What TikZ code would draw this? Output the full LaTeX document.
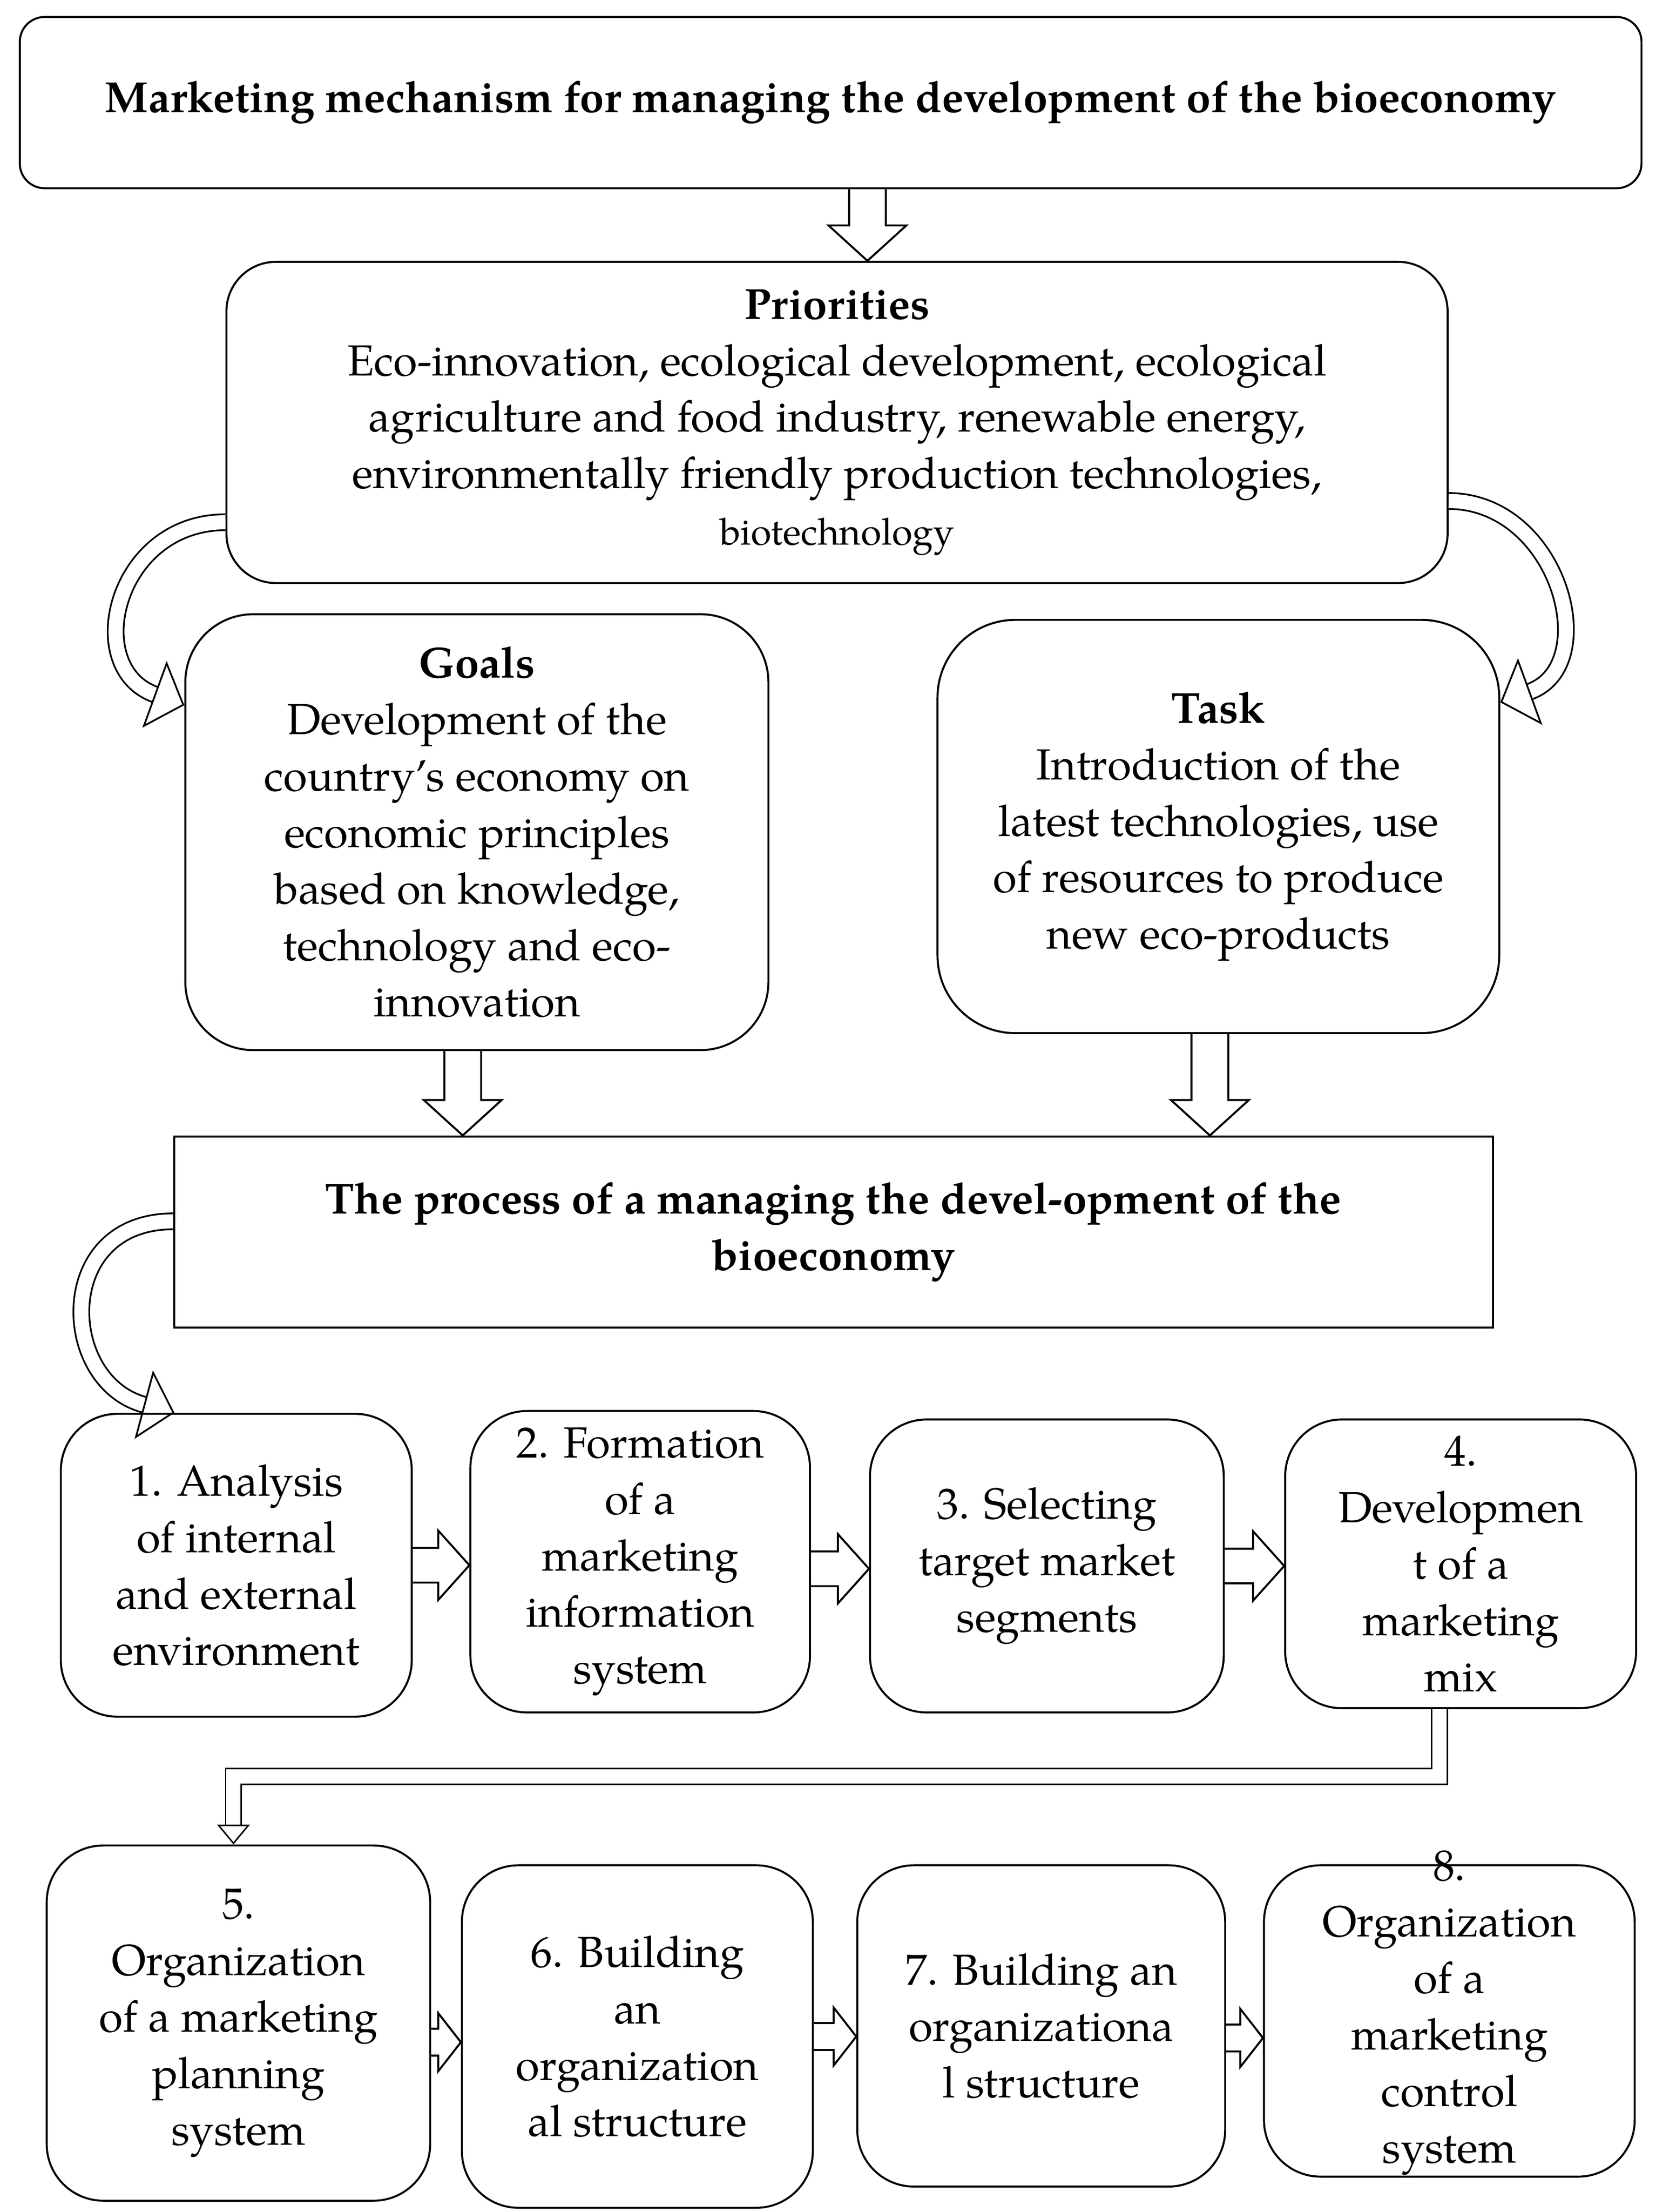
\documentclass[tikz,border=0pt]{standalone}
\usepackage{fontspec}
\setmainfont{texgyrepagella}[Extension=.otf, UprightFont=*-regular, BoldFont=*-bold, ItalicFont=*-italic, BoldItalicFont=*-bolditalic]
\usetikzlibrary{positioning,calc,arrows.meta}

\begin{document}
\begin{tikzpicture}[every node/.style={align=center, font=\fontsize{17.5}{22.7}\selectfont},
  box/.style={draw, line width=0.8pt, rounded corners=#1, inner sep=1pt},
  box/.default=0.8cm,
  hollow/.style n args={3}{draw, line width=0.8pt,
    to path={let \p1=($(\tikztotarget)!#3!(\tikztostart)$) in
      ($(\tikztostart)!#1!-90:(\tikztotarget)$) -- ($(\p1)!#1!-90:(\tikztotarget)$)
      -- ($(\p1)!#2!-90:(\tikztotarget)$) -- (\tikztotarget)
      -- ($(\p1)!#2!90:(\tikztotarget)$) -- ($(\p1)!#1!90:(\tikztotarget)$)
      -- ($(\tikztostart)!#1!90:(\tikztotarget)$)}},
  bigarrow/.style={hollow={0.26cm}{0.55cm}{0.5cm}},
  rowarrow/.style={hollow={0.245cm}{0.49cm}{0.44cm}},
  smallarrow/.style={hollow={0.19cm}{0.41cm}{0.32cm}},
  curvy/.style={line width=0.7pt, double=white, double distance=0.2cm,
    -{Triangle[open, length=0.45cm, width=1.0cm, line width=0.7pt]}},
  pipe/.style={line width=0.6pt, double=white, double distance=0.2cm,
    -{Triangle[open, length=0.28cm, width=0.46cm, line width=0.6pt]}}]
  \useasboundingbox (0,0) rectangle (23.4,-31.26);

  \node[box=0.35cm, minimum width=22.92cm, minimum height=2.42cm] (top) at (11.74,-1.45)
    {\textbf{Marketing mechanism for managing the development of the bioeconomy}};
  \node[box=0.7cm, minimum width=17.26cm, minimum height=4.54cm] (prio) at (11.83,-5.97)
    {\textbf{Priorities}\\ Eco-innovation, ecological development, ecological\\
     agriculture and food industry, renewable energy,\\
     environmentally friendly production technologies,\\
     {\fontsize{15}{22.7}\selectfont biotechnology}};
  \node[box=0.96cm, minimum width=8.24cm, minimum height=6.16cm] (goals) at (6.74,-11.76)
    {\textbf{Goals}\\ Development of the\\ country's economy on\\ economic principles\\
     based on knowledge,\\ technology and eco-\\ innovation};
  \node[box=1.1cm, minimum width=7.94cm, minimum height=5.84cm] (task) at (17.22,-11.68)
    {\textbf{Task}\\ Introduction of the\\ latest technologies, use\\ of resources to produce\\
     new eco-products};
  \node[draw, line width=0.8pt, minimum width=18.64cm, minimum height=2.7cm] (proc) at (11.78,-17.41)
    {\textbf{The process of a managing the devel-opment of the}\\ \textbf{bioeconomy}};

  \node[box, minimum width=4.96cm, minimum height=4.28cm] (b1) at (3.34,-22.12)
    {1. Analysis\\ of internal\\ and external\\ environment};
  \node[box, minimum width=4.8cm, minimum height=4.26cm, right=0.8cm of b1, yshift=0.05cm] (b2)
    {2. Formation\\ of a\\ marketing\\ information\\ system};
  \node[box, minimum width=5cm, minimum height=4.14cm, right=0.82cm of b2, yshift=-0.06cm] (b3)
    {3. Selecting\\ target market\\ segments};
  \node[box, minimum width=4.96cm, minimum height=4.08cm, right=0.84cm of b3, yshift=0.03cm] (b4)
    {4.\\ Developmen\\ t of a\\ marketing\\ mix};

  \node[box, minimum width=5.42cm, minimum height=5.02cm] (b5) at (3.37,-28.59)
    {5.\\ Organization\\ of a marketing\\ planning\\ system};
  \node[box, minimum width=4.96cm, minimum height=4.84cm, right=0.42cm of b5, yshift=-0.19cm] (b6)
    {6. Building\\ an\\ organization\\ al structure};
  \node[box, minimum width=5.2cm, minimum height=4.54cm, right=0.6cm of b6, yshift=0.15cm] (b7)
    {7. Building an\\ organizationa\\ l structure};
  \node[box, minimum width=5.24cm, minimum height=4.4cm, right=0.52cm of b7, yshift=0.07cm] (b8)
    {\smash{\begin{tabular}{@{}c@{}}8.\\ Organization\\ of a\\ marketing\\ control\\ system\end{tabular}}};

  \draw[bigarrow] ([xshift=0.52cm]top.south) to ([xshift=0.43cm]prio.north);
  \draw[curvy] ([yshift=-1.41cm]prio.west) to[out=180, in=160, looseness=1.5] ([yshift=-1.3cm]goals.north west);
  \draw[curvy] ([yshift=-1.11cm]prio.east) to[out=0, in=20, looseness=1.35] ([yshift=-1.18cm]task.north east);
  \draw[bigarrow] ([xshift=-0.2cm]goals.south) to ([xshift=-0.2cm]goals.south |- proc.north);
  \draw[bigarrow] ([xshift=-0.12cm]task.south) to ([xshift=-0.12cm]task.south |- proc.north);
  \draw[curvy] ([yshift=0.15cm]proc.west) to[out=180, in=165, looseness=1.6] ([xshift=1.62cm]b1.north west);

  \draw[rowarrow] (b1.east) to (b1.east -| b2.west);
  \draw[rowarrow] ([yshift=-0.1cm]b2.east) to ([yshift=-0.1cm]b2.east -| b3.west);
  \draw[rowarrow] (b3.east) to (b3.east -| b4.west);
  \draw[pipe] ([xshift=-0.3cm]b4.south) -- ++(0,-0.95) -| ([xshift=-0.07cm]b5.north);
  \draw[smallarrow] ([yshift=-0.27cm]b5.east) to ([yshift=-0.27cm]b5.east -| b6.west);
  \draw[smallarrow] (b6.east) to (b6.east -| b7.west);
  \draw[smallarrow] ([yshift=-0.17cm]b7.east) to ([yshift=-0.17cm]b7.east -| b8.west);
\end{tikzpicture}
\end{document}
